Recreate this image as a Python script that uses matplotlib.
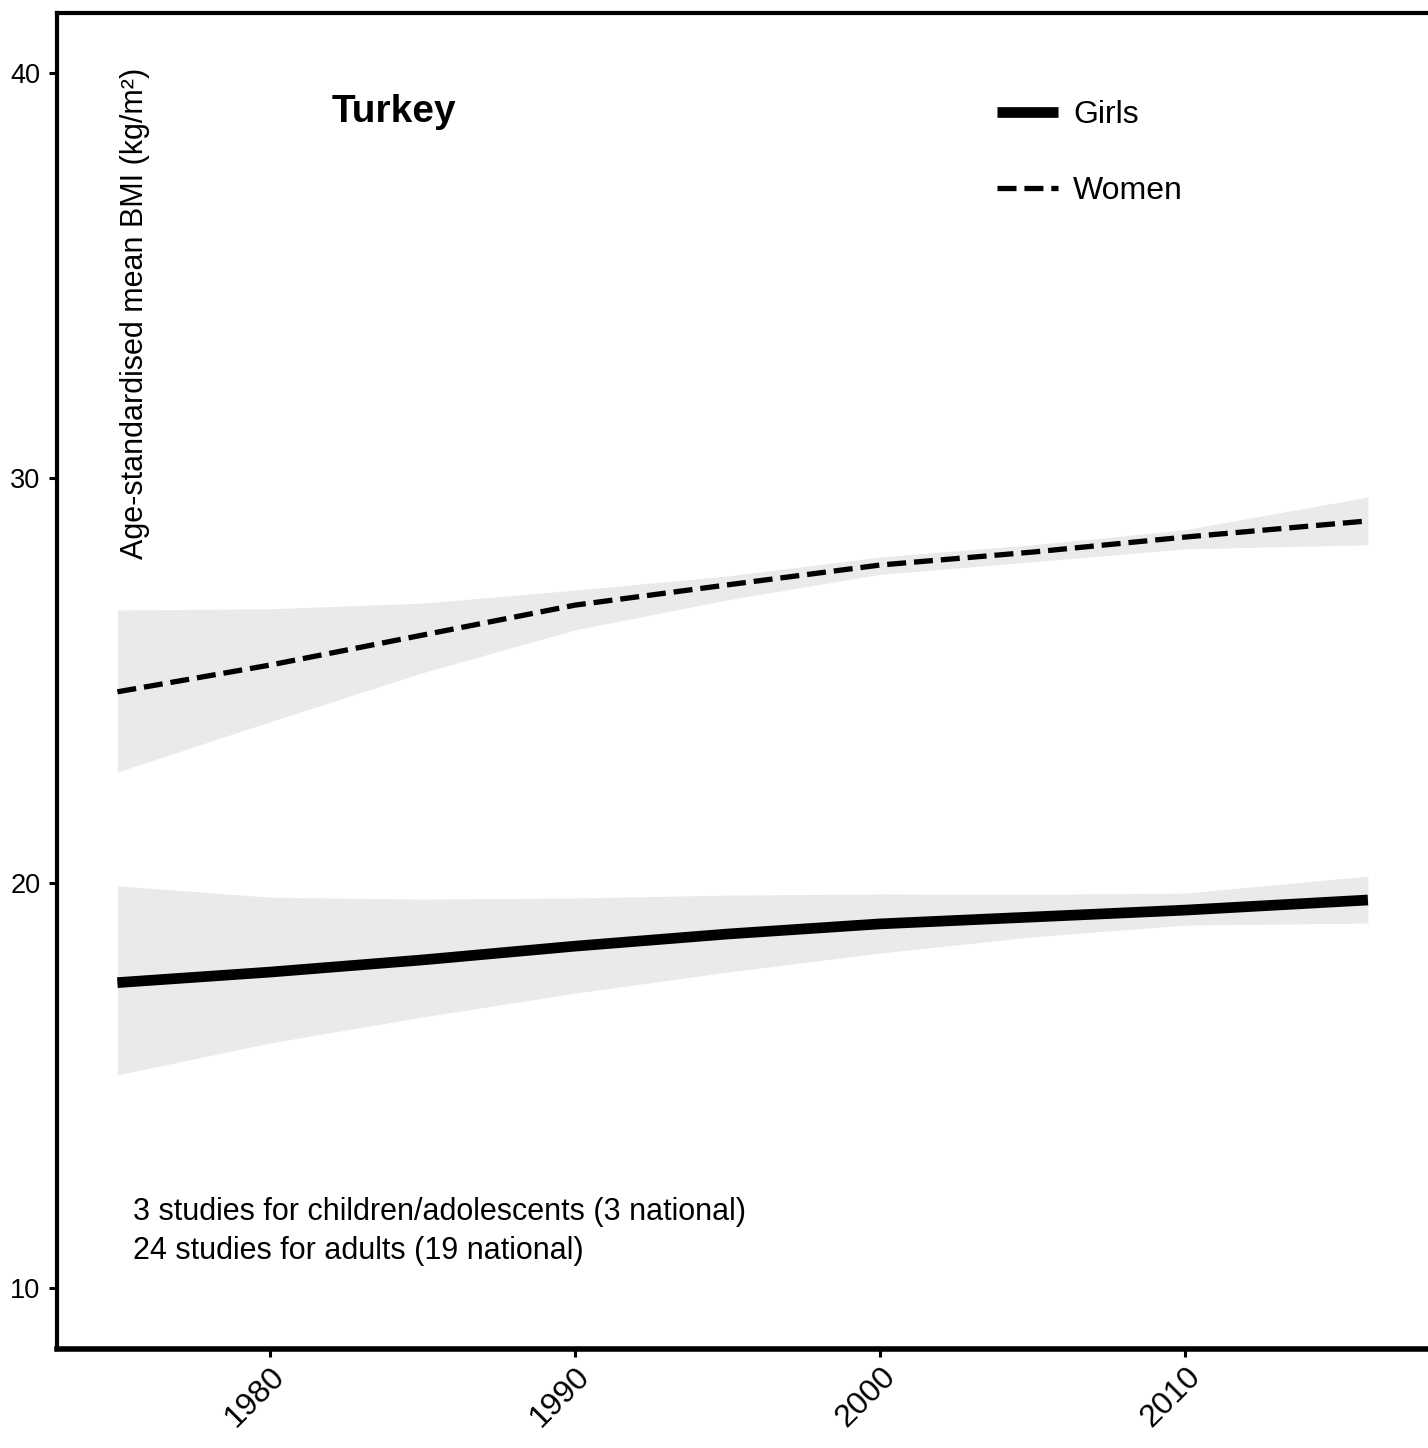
import matplotlib
matplotlib.use("Agg")
import matplotlib.pyplot as plt

plt.rcParams['font.family'] = ['Liberation Sans', 'DejaVu Sans']

# Years of the smoothed estimates
years = [1975, 1980, 1985, 1990, 1995, 2000, 2005, 2010, 2016]

# Women (dashed line) with uncertainty band
women_mean = [24.72, 25.38, 26.12, 26.86, 27.36, 27.85, 28.17, 28.54, 28.94]
women_upper = [26.74, 26.77, 26.91, 27.23, 27.58, 28.05, 28.35, 28.72, 29.53]
women_lower = [22.74, 23.98, 25.19, 26.25, 26.99, 27.62, 27.93, 28.25, 28.35]

# Girls (solid line) with uncertainty band
girls_mean = [17.54, 17.8, 18.1, 18.44, 18.74, 18.99, 19.16, 19.33, 19.58]
girls_upper = [19.93, 19.65, 19.6, 19.63, 19.7, 19.73, 19.72, 19.75, 20.17]
girls_lower = [15.26, 16.05, 16.69, 17.28, 17.8, 18.27, 18.67, 18.96, 19.01]

yticks = [10, 20, 30, 40]
xticks = [1980, 1990, 2000, 2010]

country = "Turkey"
note_lines = ["3 studies for children/adolescents (3 national)",
              "24 studies for adults (19 national)"]

W, H = 1428, 1448
fig = plt.figure(figsize=(W / 100, H / 100), dpi=100)
ax = fig.add_axes([57 / W, (H - 1349) / H, (W - 57) / W, (1349 - 13) / H])

band = '#EAEAEA'
ax.fill_between(years, women_lower, women_upper, color=band, lw=0)
ax.fill_between(years, girls_lower, girls_upper, color=band, lw=0)
ax.plot(years, girls_mean, color='black', lw=7.7, solid_capstyle='butt', label='Girls')
ax.plot(years, women_mean, color='black', lw=3.8, linestyle=(0, (3.6, 1.5)),
        dash_capstyle='butt', label='Women')

ax.set_xlim(1973.02, 2017.97)
ax.set_ylim(8.494, 41.48)
ax.set_xticks(xticks)
ax.set_yticks(yticks)
ax.tick_params(axis='y', labelsize=19.5, length=6, width=2.2, pad=6, colors='black')
ax.tick_params(axis='x', labelsize=23, length=6, width=2.2, pad=3, colors='black',
               labelrotation=45)
for lab in ax.get_xticklabels():
    lab.set_ha('right')
    lab.set_va('top')
    lab.set_rotation_mode('anchor')

ax.spines['right'].set_visible(False)
ax.spines['top'].set_linewidth(3)
ax.spines['left'].set_linewidth(3)
ax.spines['bottom'].set_linewidth(4)

ax.text((135 - 57) / (W - 57), (1349 - 68) / (1349 - 13),
        'Age-standardised mean BMI (kg/m²)', rotation=90, ha='center', va='top',
        fontsize=22, transform=ax.transAxes)
ax.text((332 - 57) / (W - 57), (1349 - 122) / (1349 - 13), country,
        fontsize=28, fontweight='bold', ha='left', va='baseline', transform=ax.transAxes)
ax.text((133 - 57) / (W - 57), (1349 - 1220) / (1349 - 13), note_lines[0],
        fontsize=22, ha='left', va='baseline', transform=ax.transAxes)
ax.text((133 - 57) / (W - 57), (1349 - 1259) / (1349 - 13), note_lines[1],
        fontsize=22, ha='left', va='baseline', transform=ax.transAxes)

leg = ax.legend(loc='upper left', bbox_to_anchor=(997 / W, (H - 100) / H),
                bbox_transform=fig.transFigure, frameon=False, fontsize=23,
                handlelength=1.91, handletextpad=0.47, labelspacing=1.45,
                borderpad=0, borderaxespad=0)

fig.savefig('out.png', dpi=100)
